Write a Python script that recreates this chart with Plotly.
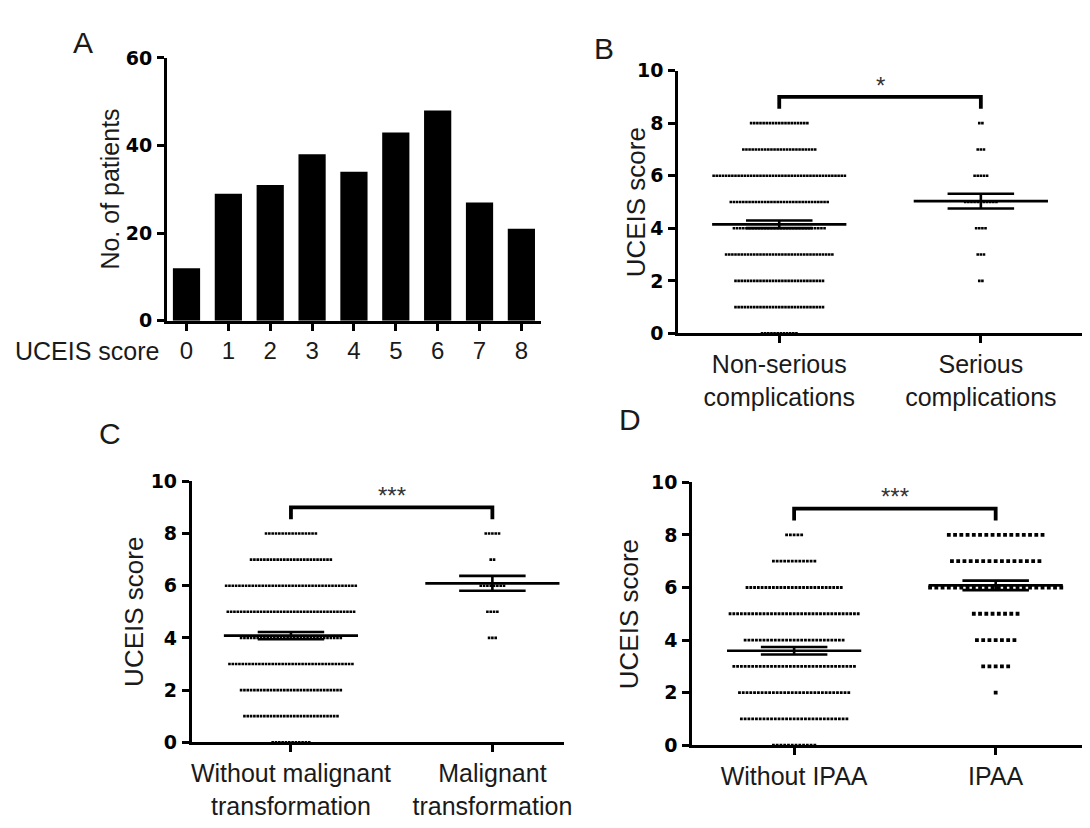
import numpy as np
import plotly.graph_objects as go

FONT = "Liberation Sans, Arial, sans-serif"
TICKFONT = "DejaVu Sans, Liberation Sans, Arial, sans-serif"
W, H = 1090, 828

# ---------------- data ----------------
scores = [0, 1, 2, 3, 4, 5, 6, 7, 8]
patients = [12, 29, 31, 38, 34, 43, 48, 27, 21]

# counts of patients per UCEIS score (0..8) in each group
b_groups = ["Non-serious<br>complications", "Serious<br>complications"]
b_nonserious = [12, 29, 29, 35, 30, 32, 43, 24, 19]
b_serious = [0, 0, 2, 3, 4, 11, 5, 3, 2]
b_sig = "*"

c_groups = ["Without malignant<br>transformation", "Malignant<br>transformation"]
c_without = [12, 29, 31, 38, 31, 39, 40, 25, 16]
c_malignant = [0, 0, 0, 0, 3, 4, 8, 2, 5]
c_sig = "***"

d_groups = ["Without IPAA", "IPAA"]
d_without = [12, 29, 30, 33, 27, 35, 26, 12, 5]
d_ipaa = [0, 0, 1, 5, 7, 8, 22, 15, 16]
d_sig = "***"


def px_x(a, b):
    return [a / W, b / W]


def px_y(top, bottom):
    return [1 - bottom / H, 1 - top / H]


fig = go.Figure()

# ---------------- panel A ----------------
fig.add_trace(go.Bar(x=scores, y=patients, width=0.65, marker=dict(color="black", line=dict(width=0)),
                     xaxis="x", yaxis="y", showlegend=False))

AX = dict(showline=True, linecolor="black", linewidth=2.5, ticks="outside", ticklen=7,
          tickwidth=2.5, tickcolor="black", showgrid=False, zeroline=False)
YTF = dict(size=19, family=TICKFONT, color="black", weight="bold")

layout = dict(
    width=W, height=H, margin=dict(l=0, r=0, t=0, b=0),
    paper_bgcolor="white", plot_bgcolor="white", showlegend=False,
    font=dict(family=FONT, color="#1a1a1a"),
    xaxis=dict(domain=px_x(160, 537), range=[-0.47, 8.47], tickvals=scores,
               tickfont=dict(size=24, family=FONT, color="#1a1a1a"), anchor="y", **AX),
    yaxis=dict(domain=px_y(40, 310), range=[0, 60], tickvals=[0, 20, 40, 60],
               tickfont=YTF, anchor="x", ticklabelstandoff=1, **AX),
)

annotations = [
    dict(text="A", x=76 / W, y=1 - 24 / H, xref="paper", yref="paper", showarrow=False,
         font=dict(size=30, family=FONT), xanchor="center", yanchor="middle"),
    dict(text="No. of patients", x=103 / W, y=1 - 175 / H, xref="paper", yref="paper", showarrow=False,
         textangle=-90, font=dict(size=25, family=FONT), xanchor="center", yanchor="middle"),
    dict(text="UCEIS score", x=80 / W, y=1 - 341 / H, xref="paper", yref="paper", showarrow=False,
         font=dict(size=25, family=FONT), xanchor="center", yanchor="middle"),
]

# ---------------- dot panels ----------------
panels = [
    dict(idx=2, groups=b_groups, data=[b_nonserious, b_serious], sig=b_sig,
         spacing=[0.0155, 0.0155], msize=[2.6, 2.6],
         xd=(675, 1083), yd=(53, 323), xr=[-0.502, 1.507],
         letter="B", lpos=(600, 30), tpos=(633, 188)),
    dict(idx=3, groups=c_groups, data=[c_without, c_malignant], sig=c_sig,
         spacing=[0.0165, 0.0165], msize=[2.6, 2.6],
         xd=(185, 560), yd=(475, 743), xr=[-0.493, 1.355],
         letter="C", lpos=(103, 426), tpos=(127, 609)),
    dict(idx=4, groups=d_groups, data=[d_without, d_ipaa], sig=d_sig,
         spacing=[0.0187, 0.031], msize=[2.8, 3.8],
         xd=(689, 1090), yd=(476, 746), xr=[-0.507, 1.468],
         letter="D", lpos=(627, 411), tpos=(625, 611)),
]

for p in panels:
    i = p["idx"]
    xa, ya = f"x{i}", f"y{i}"
    for g, counts in enumerate(p["data"]):
        xs, ys = [], []
        for s, n in zip(scores, counts):
            if n == 0:
                continue
            off = (np.arange(n) - (n - 1) / 2) * p["spacing"][g]
            xs.extend((g + off).tolist())
            ys.extend([s] * n)
        vals = np.repeat(scores, counts)
        fig.add_trace(go.Scatter(x=xs, y=ys, mode="markers", xaxis=xa, yaxis=ya,
                                 marker=dict(symbol="square", size=p["msize"][g], color="black",
                                             line=dict(width=0)),
                                 showlegend=False, hoverinfo="skip"))
        m = vals.mean()
        sem = vals.std(ddof=1) / np.sqrt(len(vals))
        # mean line
        fig.add_trace(go.Scatter(x=[g - 0.333, g + 0.333], y=[m, m], mode="lines", xaxis=xa, yaxis=ya,
                                 line=dict(color="black", width=2.6), showlegend=False, hoverinfo="skip"))
        # SEM
        fig.add_trace(go.Scatter(
            x=[g - 0.165, g + 0.165, None, g - 0.165, g + 0.165, None, g, g],
            y=[m + sem, m + sem, None, m - sem, m - sem, None, m - sem, m + sem],
            mode="lines", xaxis=xa, yaxis=ya, line=dict(color="black", width=2.6),
            showlegend=False, hoverinfo="skip"))
    # significance bracket
    fig.add_trace(go.Scatter(x=[0, 0, 1, 1], y=[8.55, 9.0, 9.0, 8.55], mode="lines", xaxis=xa, yaxis=ya,
                             line=dict(color="black", width=3.8), showlegend=False, hoverinfo="skip"))
    annotations.append(dict(text=p["sig"], x=0.5, y=9.45, xref=xa, yref=ya, showarrow=False,
                            font=dict(size=24, family=FONT, color="#333"),
                            xanchor="center", yanchor="middle"))
    layout[f"xaxis{i}"] = dict(domain=px_x(*p["xd"]), range=p["xr"], tickvals=[0, 1],
                               ticktext=p["groups"], anchor=ya,
                               tickfont=dict(size=25, family=FONT, color="#1a1a1a"), **AX)
    layout[f"yaxis{i}"] = dict(domain=px_y(*p["yd"]), range=[0, 10], tickvals=[0, 2, 4, 6, 8, 10],
                               anchor=xa, tickfont=YTF, ticklabelstandoff=1, **AX)
    annotations.append(dict(text=p["letter"], x=p["lpos"][0] / W, y=1 - p["lpos"][1] / H, xref="paper",
                            yref="paper", showarrow=False, font=dict(size=30, family=FONT),
                            xanchor="center", yanchor="middle"))
    annotations.append(dict(text="UCEIS score", x=p["tpos"][0] / W, y=1 - p["tpos"][1] / H, xref="paper",
                            yref="paper", showarrow=False, textangle=-90, font=dict(size=26, family=FONT),
                            xanchor="center", yanchor="middle"))

layout["annotations"] = annotations
fig.update_layout(**layout)
fig.write_html("out.html")
